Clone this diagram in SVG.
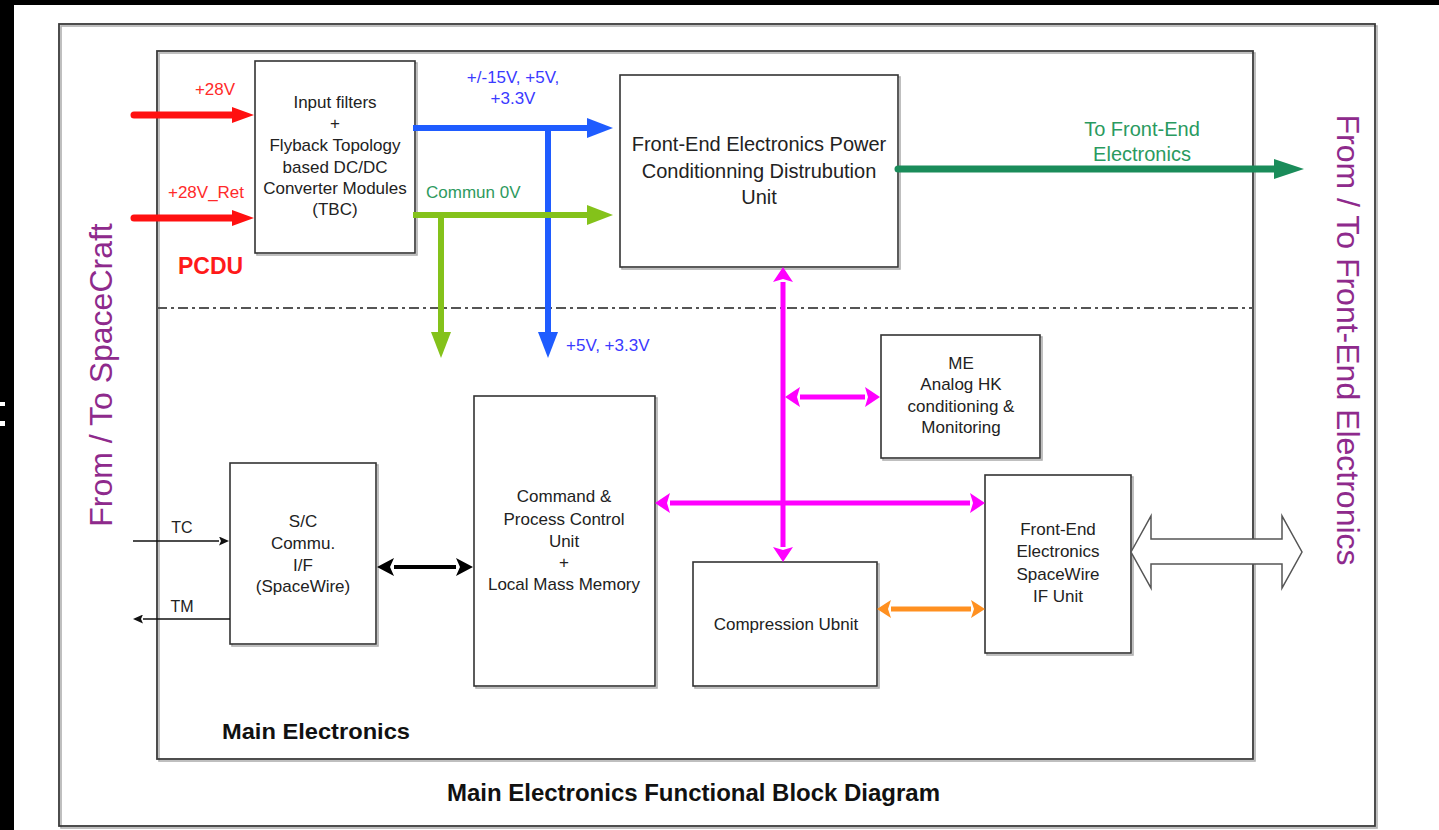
<svg xmlns="http://www.w3.org/2000/svg" width="1439" height="830" viewBox="0 0 1439 830">
<style>
  .box { fill: #fff; stroke: #333; stroke-width: 1.6; }
  .sh { fill: none; stroke: #b0b0b0; stroke-width: 1.6; }
  .frame { fill: none; stroke: #3a3a3a; stroke-width: 1.8; }
  .t { font-family: "Liberation Sans", Arial, sans-serif; font-size: 17px; fill: #222; text-anchor: middle; }
  .big { font-size: 20px; }
  .lbl { font-family: "Liberation Sans", Arial, sans-serif; font-size: 17px; }
  .lbl20 { font-size: 20px; }
  .lbl16 { font-size: 16px; }
  .bold { font-family: "Liberation Sans", Arial, sans-serif; font-weight: bold; fill: #111; }
  .side { font-family: "Liberation Sans", Arial, sans-serif; font-size: 32px; fill: #8e2a8c; text-anchor: middle; }
  .red { stroke: #ff1010; stroke-width: 7; fill: none; stroke-linecap: round; }
  .blue { stroke: #1f5cff; stroke-width: 6; fill: none; }
  .lgreen { stroke: #84c21a; stroke-width: 6; fill: none; }
  .dgreen { stroke: #1a8c5a; stroke-width: 7; fill: none; stroke-linecap: round; }
  .mag { stroke: #ff00ff; stroke-width: 5; fill: none; }
  .orange { stroke: #ff9020; stroke-width: 5; fill: none; }
  .blk { stroke: #000; stroke-width: 4; fill: none; }
  .thin { stroke: #111; stroke-width: 1.3; fill: none; }
</style>
<defs>
  <marker id="mRed" markerUnits="userSpaceOnUse" viewBox="0 -8 22 16" markerWidth="22" markerHeight="16" refX="0" refY="0" orient="auto"><path d="M0,-8 L22,0 L0,8 Z" fill="#ff1010"/></marker>
  <marker id="mBlue" markerUnits="userSpaceOnUse" viewBox="0 -10 26 20" markerWidth="26" markerHeight="20" refX="0" refY="0" orient="auto"><path d="M0,-10 L26,0 L0,10 Z" fill="#1f5cff"/></marker>
  <marker id="mLGreen" markerUnits="userSpaceOnUse" viewBox="0 -10 26 20" markerWidth="26" markerHeight="20" refX="0" refY="0" orient="auto"><path d="M0,-10 L26,0 L0,10 Z" fill="#84c21a"/></marker>
  <marker id="mDGreen" markerUnits="userSpaceOnUse" viewBox="0 -10 30 20" markerWidth="30" markerHeight="20" refX="0" refY="0" orient="auto"><path d="M0,-10 L30,0 L0,10 Z" fill="#1a8c5a"/></marker>
  <marker id="mMag" markerUnits="userSpaceOnUse" viewBox="0 -10 15 20" markerWidth="15" markerHeight="20" refX="0" refY="0" orient="auto-start-reverse"><path d="M0,-10 L15,0 L0,10 L3,0 Z" fill="#ff00ff"/></marker>
  <marker id="mOrange" markerUnits="userSpaceOnUse" viewBox="0 -9 14 18" markerWidth="14" markerHeight="18" refX="0" refY="0" orient="auto-start-reverse"><path d="M0,-9 L14,0 L0,9 L3,0 Z" fill="#ff9020"/></marker>
  <marker id="mBlk" markerUnits="userSpaceOnUse" viewBox="0 -9 17 18" markerWidth="17" markerHeight="18" refX="0" refY="0" orient="auto-start-reverse"><path d="M0,-9 L17,0 L0,9 L4,0 Z" fill="#000"/></marker>
  <marker id="mThin" markerUnits="userSpaceOnUse" viewBox="0 -4.5 10 9" markerWidth="10" markerHeight="9" refX="0" refY="0" orient="auto"><path d="M0,-4.5 L10,0 L0,4.5 L2,0 Z" fill="#111"/></marker>
</defs>

<rect x="0" y="0" width="1439" height="830" fill="#000"/>
<rect x="14" y="5" width="1425" height="825" fill="#fff"/>
<rect x="0" y="402" width="5" height="4" fill="#fff"/>
<rect x="0" y="421" width="5" height="5" fill="#fff"/>

<g id="outer-frame">
  <rect class="sh" x="61" y="26" width="1316" height="802"/>
  <rect class="frame" x="59" y="24" width="1316" height="802"/>
  <text class="bold" x="447" y="801" font-size="23" textLength="493" lengthAdjust="spacingAndGlyphs">Main Electronics Functional Block Diagram</text>
  <text class="side" transform="translate(112,375) rotate(-90)">From / To SpaceCraft</text>
  <text class="side" transform="translate(1337,340) rotate(90)">From / To Front-End Electronics</text>
</g>

<g id="main-electronics">
  <rect class="sh" x="159" y="53" width="1096" height="708"/>
  <rect class="frame" x="157" y="51" width="1096" height="708"/>
  <line x1="157" y1="308" x2="1253" y2="308" stroke="#555" stroke-width="2" stroke-dasharray="10 4 3 4"/>
  <text class="bold" x="222" y="739" font-size="22" textLength="188" lengthAdjust="spacingAndGlyphs">Main Electronics</text>
  <text x="178" y="274" font-family="Liberation Sans, Arial, sans-serif" font-weight="bold" font-size="23" fill="#ff1a1a">PCDU</text>
</g>

<g id="pcdu-converter">
  <rect class="sh" x="257" y="63" width="160" height="192"/>
  <rect class="box" x="255" y="61" width="160" height="192"/>
  <text class="t" x="335" y="108">Input filters</text>
  <text class="t" x="335" y="129">+</text>
  <text class="t" x="335" y="151">Flyback Topology</text>
  <text class="t" x="335" y="173">based DC/DC</text>
  <text class="t" x="335" y="194">Converter Modules</text>
  <text class="t" x="335" y="215">(TBC)</text>
</g>

<g id="fee-pcdu">
  <rect class="sh" x="622" y="77" width="278" height="192"/>
  <rect class="box" x="620" y="75" width="278" height="192"/>
  <text class="t big" x="759" y="151">Front-End Electronics Power</text>
  <text class="t big" x="759" y="178">Conditionning Distrubution</text>
  <text class="t big" x="759" y="204">Unit</text>
</g>

<g id="me-hk">
  <rect class="sh" x="883" y="337" width="159" height="123"/>
  <rect class="box" x="881" y="335" width="159" height="123"/>
  <text class="t" x="961" y="369">ME</text>
  <text class="t" x="961" y="390">Analog HK</text>
  <text class="t" x="961" y="412">conditioning &amp;</text>
  <text class="t" x="961" y="433">Monitoring</text>
</g>

<g id="sc-commu-if">
  <rect class="sh" x="232" y="465" width="146" height="181"/>
  <rect class="box" x="230" y="463" width="146" height="181"/>
  <text class="t" x="303" y="527">S/C</text>
  <text class="t" x="303" y="549">Commu.</text>
  <text class="t" x="303" y="571">I/F</text>
  <text class="t" x="303" y="592">(SpaceWire)</text>
</g>

<g id="command-process">
  <rect class="sh" x="476" y="398" width="181" height="290"/>
  <rect class="box" x="474" y="396" width="181" height="290"/>
  <text class="t" x="564" y="502">Command &amp;</text>
  <text class="t" x="564" y="525">Process Control</text>
  <text class="t" x="564" y="547">Unit</text>
  <text class="t" x="564" y="568">+</text>
  <text class="t" x="564" y="590">Local Mass Memory</text>
</g>

<g id="compression">
  <rect class="sh" x="695" y="564" width="184" height="124"/>
  <rect class="box" x="693" y="562" width="184" height="124"/>
  <text class="t" x="786" y="630">Compression Ubnit</text>
</g>

<g id="fee-spw-if">
  <rect class="sh" x="987" y="477" width="146" height="178"/>
  <rect class="box" x="985" y="475" width="146" height="178"/>
  <text class="t" x="1058" y="535">Front-End</text>
  <text class="t" x="1058" y="557">Electronics</text>
  <text class="t" x="1058" y="580">SpaceWire</text>
  <text class="t" x="1058" y="602">IF Unit</text>
</g>

<g id="connectors">
  <line class="red" x1="134" y1="115" x2="232" y2="115" marker-end="url(#mRed)"/>
  <line class="red" x1="134" y1="218" x2="232" y2="218" marker-end="url(#mRed)"/>
  <text class="lbl" x="215" y="95" fill="#ff2a2a" text-anchor="middle">+28V</text>
  <text class="lbl" x="206" y="198" fill="#ff2a2a" text-anchor="middle">+28V_Ret</text>

  <line class="blue" x1="413" y1="128" x2="587" y2="128" marker-end="url(#mBlue)"/>
  <line class="blue" x1="548" y1="125" x2="548" y2="332" marker-end="url(#mBlue)"/>
  <text class="lbl" x="513" y="83" fill="#3a3aff" text-anchor="middle">+/-15V, +5V,</text>
  <text class="lbl" x="513" y="104" fill="#3a3aff" text-anchor="middle">+3.3V</text>
  <text class="lbl" x="566" y="351" fill="#3a3aff">+5V, +3.3V</text>

  <line class="lgreen" x1="413" y1="215" x2="587" y2="215" marker-end="url(#mLGreen)"/>
  <line class="lgreen" x1="441" y1="212" x2="441" y2="332" marker-end="url(#mLGreen)"/>
  <text class="lbl" x="426" y="198" fill="#2e9a5e">Commun 0V</text>

  <line class="dgreen" x1="898" y1="169" x2="1274" y2="169" marker-end="url(#mDGreen)"/>
  <text class="lbl lbl20" x="1142" y="136" fill="#2a9a60" text-anchor="middle">To Front-End</text>
  <text class="lbl lbl20" x="1142" y="161" fill="#2a9a60" text-anchor="middle">Electronics</text>

  <line class="mag" x1="783" y1="282" x2="783" y2="547" marker-start="url(#mMag)" marker-end="url(#mMag)"/>
  <line class="mag" x1="670" y1="503" x2="970" y2="503" marker-start="url(#mMag)" marker-end="url(#mMag)"/>
  <line class="mag" x1="800" y1="397" x2="865" y2="397" marker-start="url(#mMag)" marker-end="url(#mMag)"/>

  <line class="orange" x1="891" y1="609" x2="971" y2="609" marker-start="url(#mOrange)" marker-end="url(#mOrange)"/>

  <line class="blk" x1="394" y1="567" x2="456" y2="567" marker-start="url(#mBlk)" marker-end="url(#mBlk)"/>

  <line class="thin" x1="133" y1="541" x2="219" y2="541" marker-end="url(#mThin)"/>
  <line class="thin" x1="230" y1="619" x2="143" y2="619" marker-end="url(#mThin)"/>
  <text class="lbl lbl16" x="182" y="533" fill="#222" text-anchor="middle">TC</text>
  <text class="lbl lbl16" x="182" y="612" fill="#222" text-anchor="middle">TM</text>

  <polygon points="1131,552 1151,516 1151,539 1282,539 1282,516 1302,552 1282,588 1282,564 1151,564 1151,588" fill="#fff" stroke="#555" stroke-width="1.5" stroke-linejoin="miter"/>
</g>
</svg>
